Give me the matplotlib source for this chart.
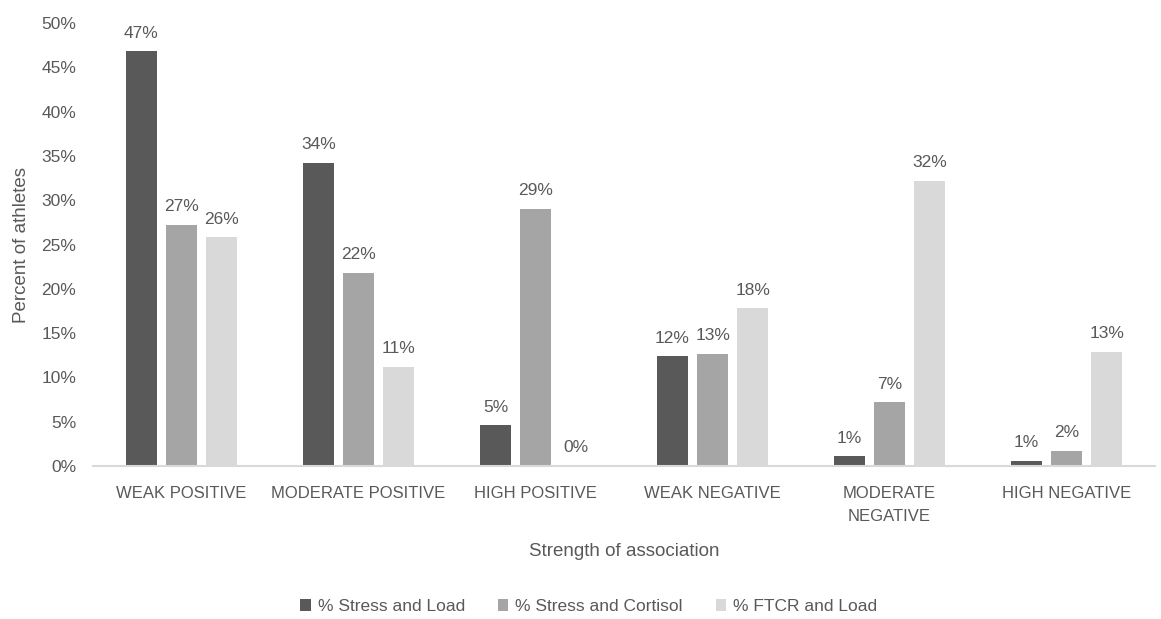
import matplotlib.pyplot as plt
import numpy as np
from matplotlib.ticker import PercentFormatter

categories = ["WEAK POSITIVE", "MODERATE POSITIVE", "HIGH POSITIVE",
              "WEAK NEGATIVE", "MODERATE\nNEGATIVE", "HIGH NEGATIVE"]
stress_load = [46.8, 34.2, 4.6, 12.4, 1.1, 0.6]
stress_cortisol = [27.2, 21.8, 29.0, 12.7, 7.2, 1.7]
ftcr_load = [25.8, 11.2, 0.0, 17.8, 32.2, 12.9]
series_names = ["% Stress and Load", "% Stress and Cortisol", "% FTCR and Load"]
colors = ["#595959", "#a5a5a5", "#d9d9d9"]

plt.rcParams['font.family'] = ['Liberation Sans', 'DejaVu Sans']
txt = "#595959"

fig = plt.figure(figsize=(11.61, 6.19), dpi=100)
ax = fig.add_axes([0.080, 0.247, 0.915, 0.716])

x = np.arange(len(categories))
w = 0.175
step = 0.226
for i, (vals, name, c) in enumerate(zip([stress_load, stress_cortisol, ftcr_load], series_names, colors)):
    pos = x + (i - 1) * step
    ax.bar(pos, vals, width=w, color=c, label=name)
    for xp, v in zip(pos, vals):
        ax.text(xp, v + 1.2, "%d%%" % round(v), ha="center", va="bottom",
                fontsize=12.5, color=txt)

ax.set_xlim(-0.5, len(categories) - 0.5)
ax.set_ylim(0, 50)
ax.set_yticks(np.arange(0, 51, 5))
ax.yaxis.set_major_formatter(PercentFormatter(decimals=0))
ax.set_xticks(x)
ax.set_xticklabels(categories, fontsize=12, color=txt, linespacing=1.68)
ax.tick_params(axis="y", labelsize=12.5, labelcolor=txt, length=0, pad=12)
ax.tick_params(axis="x", length=0, pad=14)
for s in ["top", "right", "left"]:
    ax.spines[s].set_visible(False)
ax.spines["bottom"].set_color("#d9d9d9")
ax.spines["bottom"].set_linewidth(1.5)

ax.set_ylabel("Percent of athletes", fontsize=13.5, color=txt, labelpad=8)
ax.set_xlabel("Strength of association", fontsize=13.5, color=txt, labelpad=14)

fig.legend(loc="center", bbox_to_anchor=(0.507, 0.02), ncol=3, frameon=False,
           fontsize=12.5, labelcolor=txt, handlelength=0.6, handleheight=0.6,
           handletextpad=0.4, columnspacing=1.9)

fig.savefig("out.png", dpi=100)
